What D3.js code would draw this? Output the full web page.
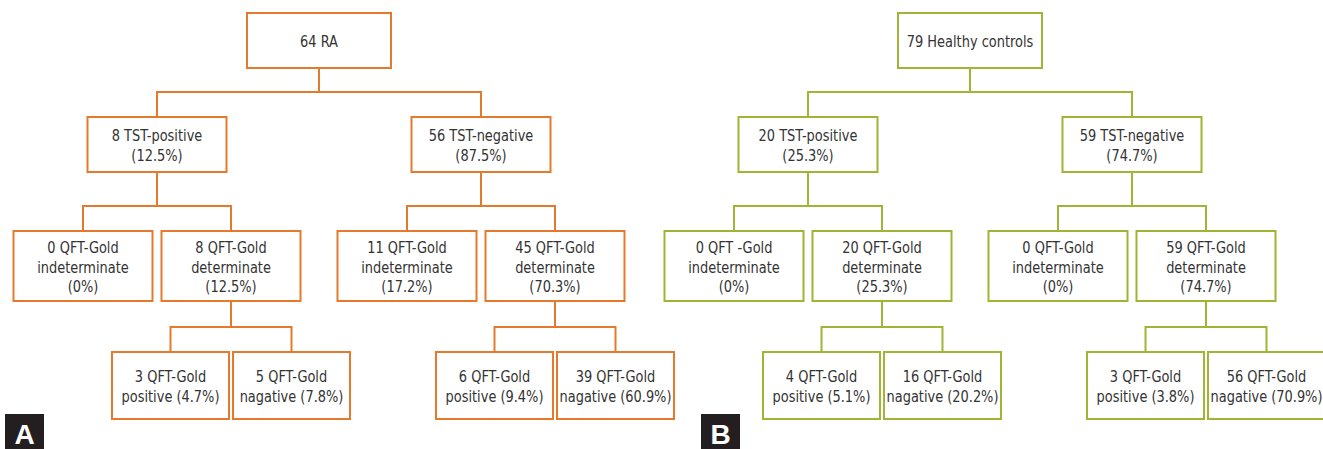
<!DOCTYPE html>
<html>
<head>
<meta charset="utf-8">
<script src="https://cdn.jsdelivr.net/npm/d3@7"></script>
<style>
body { margin: 0; background: #fff; }
svg text { font-family: "DejaVu Sans Condensed", "Liberation Sans Narrow", sans-serif; }
</style>
</head>
<body>
<script>
// Data
var panels = ["A", "B"];
var groupNames = ["RA", "Healthy controls"];
var groupN = [64, 79];
var tstN = [[8, 56], [20, 59]];          // positive, negative
var tstPct = [[12.5, 87.5], [25.3, 74.7]];
var indetName = [["QFT-Gold", "QFT-Gold"], ["QFT -Gold", "QFT-Gold"]];
var indetN = [[0, 11], [0, 0]];
var indetPct = [[0, 17.2], [0, 0]];
var detN = [[8, 45], [20, 59]];
var detPct = [[12.5, 70.3], [25.3, 74.7]];
var qftPosN = [[3, 6], [4, 3]];
var qftPosPct = [[4.7, 9.4], [5.1, 3.8]];
var qftNegN = [[5, 39], [16, 56]];
var qftNegPct = [[7.8, 60.9], [20.2, 70.9]];
var colors = ["#e57a2c", "#9fb535"];

//Width and height
var w = 1323, h = 449;

// layout per depth
var boxW = [144, 139, 139, 117];
var boxH = [55, 55, 70, 67];
var boxTop = [13, 117, 231, 352];
var sibGap = [0, 324, 148, 121];
var lineH = 19.5;

var svg = d3.select("body")
	.append("svg")
	.attr("width", w)
	.attr("height", h);

// root center for each panel
var xPanel = d3.scalePoint().domain(panels).range([319, 970]);
var xTag = d3.scalePoint().domain(panels).range([5, 701]);

function pct(v) { return "(" + v + "%)"; }

function buildTree(p) {
	return {
		lines: [groupN[p] + " " + groupNames[p]],
		children: [0, 1].map(function(t) {
			return {
				lines: [tstN[p][t] + " TST-" + (t ? "negative" : "positive"), pct(tstPct[p][t])],
				children: [
					{ lines: [indetN[p][t] + " " + indetName[p][t], "indeterminate", pct(indetPct[p][t])] },
					{ lines: [detN[p][t] + " QFT-Gold", "determinate", pct(detPct[p][t])],
					  children: [
						{ lines: [qftPosN[p][t] + " QFT-Gold", "positive " + pct(qftPosPct[p][t])] },
						{ lines: [qftNegN[p][t] + " QFT-Gold", "nagative " + pct(qftNegPct[p][t])] }
					  ] }
				]
			};
		})
	};
}

var layout = d3.tree()
	.nodeSize([1, 1])
	.separation(function(a, b) {
		return a.parent === b.parent ? sibGap[a.depth] : 121;
	});

panels.forEach(function(panel, p) {
	var root = layout(d3.hierarchy(buildTree(p)));
	var cx = xPanel(panel);
	var col = colors[p];
	var g = svg.append("g").attr("transform", "translate(" + cx + ",0)");

	// Connectors
	g.selectAll("path.link")
		.data(root.links())
		.enter()
		.append("path")
		.attr("class", "link")
		.attr("d", function(d) {
			var pb = boxTop[d.source.depth] + boxH[d.source.depth];
			var ct = boxTop[d.target.depth];
			var ey = ct - 25;
			return "M" + d.source.x + "," + pb + "V" + ey + "H" + d.target.x + "V" + ct;
		})
		.style("fill", "none")
		.style("stroke", col)
		.style("stroke-width", 2);

	// Boxes
	var node = g.selectAll("g.node")
		.data(root.descendants())
		.enter()
		.append("g")
		.attr("class", "node");

	node.append("rect")
		.attr("x", function(d) { return d.x - boxW[d.depth] / 2; })
		.attr("y", function(d) { return boxTop[d.depth]; })
		.attr("width", function(d) { return boxW[d.depth]; })
		.attr("height", function(d) { return boxH[d.depth]; })
		.style("fill", "#fff")
		.style("stroke", col)
		.style("stroke-width", 2);

	node.each(function(d) {
		var n = d.data.lines.length;
		var mid = boxTop[d.depth] + boxH[d.depth] / 2;
		d3.select(this).selectAll("text")
			.data(d.data.lines)
			.enter()
			.append("text")
			.attr("transform", function(t, i) {
				return "translate(" + d.x + "," + (mid + (i - (n - 1) / 2) * lineH + 6.5) + ") scale(0.9,1)";
			})
			.attr("text-anchor", "middle")
			.attr("fill", "#333")
			.style("font-size", "16px")
			.text(function(t) { return t; });
	});

	// Panel tag
	svg.append("rect")
		.attr("x", xTag(panel))
		.attr("y", 414)
		.attr("width", 39)
		.attr("height", 36)
		.style("fill", "#231f20");
	svg.append("text")
		.attr("x", xTag(panel) + 19.5)
		.attr("y", 444)
		.attr("text-anchor", "middle")
		.attr("fill", "#fff")
		.style("font-size", "28px")
		.style("font-weight", "bold")
		.style("font-family", "'Liberation Sans', sans-serif")
		.text(panel);
});
</script>
</body>
</html>
